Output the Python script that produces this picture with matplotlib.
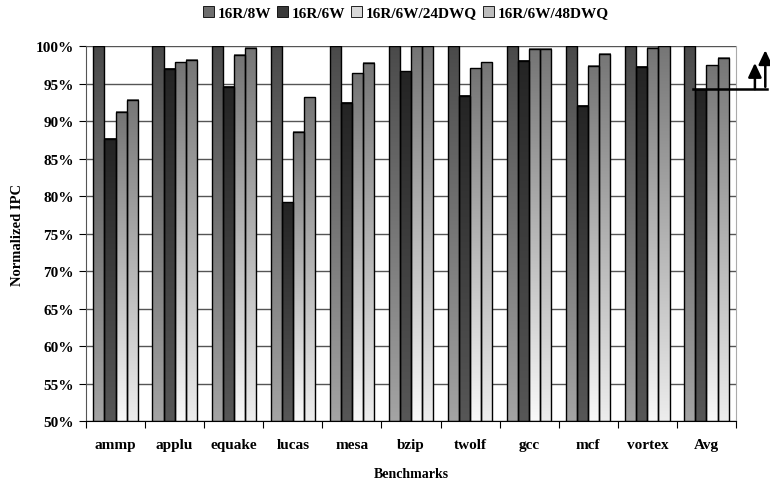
import numpy as np
import matplotlib.pyplot as plt
import matplotlib.transforms as mtransforms
from matplotlib.colors import LinearSegmentedColormap
from matplotlib.patches import Patch

plt.rcParams['font.family'] = ['Liberation Serif', 'DejaVu Serif']
plt.rcParams['font.weight'] = 'bold'

benchmarks = ['ammp', 'applu', 'equake', 'lucas', 'mesa', 'bzip', 'twolf', 'gcc', 'mcf', 'vortex', 'Avg']
series = ['16R/8W', '16R/6W', '16R/6W/24DWQ', '16R/6W/48DWQ']
r8w = [100, 100, 100, 100, 100, 100, 100, 100, 100, 100, 100]
r6w = [87.7, 97.0, 94.6, 79.2, 92.5, 96.7, 93.4, 98.1, 92.1, 97.3, 94.3]
dwq24 = [91.3, 97.9, 98.9, 88.6, 96.4, 100, 97.1, 99.7, 97.4, 99.8, 97.5]
dwq48 = [92.9, 98.2, 99.8, 93.2, 97.8, 100, 97.9, 99.7, 99.0, 100, 98.5]
yticks = [50, 55, 60, 65, 70, 75, 80, 85, 90, 95, 100]

# (top colour, bottom colour) for each series gradient
grads = [('#4a4a4a', '#a4a4a4'), ('#242424', '#575757'),
         ('#747474', '#f9f9f9'), ('#767676', '#ededed')]
legend_cols = ['#6e6e6e', '#3a3a3a', '#d8d8d8', '#bdbdbd']

fig = plt.figure(figsize=(7.7, 4.89), dpi=100)
ax = fig.add_axes([0.1117, 0.137, 0.8442, 0.766])

ymin, ymax = 50, 100
w = 0.1875
x = np.arange(len(benchmarks))
ramp = np.linspace(0, 1, 256).reshape(-1, 1)

for i, vals in enumerate([r8w, r6w, dwq24, dwq48]):
    cmap = LinearSegmentedColormap.from_list('g%d' % i, [grads[i][1], grads[i][0]])
    for xi, v in zip(x, vals):
        left = xi - 2 * w + i * w
        ax.imshow(ramp, cmap=cmap, aspect='auto', origin='lower',
                  extent=[left, left + w, ymin, v], zorder=2, interpolation='bilinear')
    ax.bar(x - 1.5 * w + i * w, np.array(vals) - ymin, bottom=ymin, width=w,
           facecolor='none', edgecolor='black', linewidth=1.0, zorder=3)

ax.set_xlim(-0.5, len(benchmarks) - 0.5)
ax.set_ylim(ymin, ymax)
ax.set_yticks(yticks)
ax.set_yticklabels(['%d%%' % t for t in yticks], fontsize=11, fontweight='bold')
ax.set_xticks(np.arange(len(benchmarks) + 1) - 0.5, minor=False)
ax.set_xticklabels([])
ax.set_xticks(x, minor=True)
ax.set_xticklabels(benchmarks, minor=True, fontsize=11, fontweight='bold')
ax.tick_params(axis='x', which='minor', length=0, pad=12)
ax.tick_params(axis='x', which='major', length=5, direction='out', color='black')
ax.tick_params(axis='y', length=5, direction='out', pad=4)

ax.grid(axis='y', color='#555555', linewidth=1.0, zorder=0)
ax.set_axisbelow(True)
ax.spines['top'].set_visible(False)
ax.spines['right'].set_color('#aaaaaa')
ax.spines['left'].set_color('#555555')
ax.spines['bottom'].set_color('black')

ax.set_ylabel('Normalized IPC', fontsize=10.5, fontweight='bold', labelpad=8)
ax.set_xlabel('Benchmarks', fontsize=10, fontweight='bold', labelpad=12)

handles = [Patch(facecolor=c, edgecolor='black', linewidth=0.6) for c in legend_cols]
fig.legend(handles, series, loc='center', bbox_to_anchor=(0.527, 0.972), ncol=4,
           frameon=False, handlelength=0.7, handleheight=0.7,
           handletextpad=0.25, columnspacing=0.4, prop={'weight': 'bold', 'size': 11})

# arrow annotation to the right of Avg
trans = mtransforms.blended_transform_factory(ax.transAxes, ax.transData)
ax.plot([0.934, 1.048], [r6w[-1], r6w[-1]], color='black', lw=1.8,
        transform=trans, clip_on=False, zorder=5)
astyle = '-|>,head_length=0.85,head_width=0.4'
ax.annotate('', xy=(1.029, dwq24[-1] + 0.3), xytext=(1.029, r6w[-1]),
            xycoords=trans, textcoords=trans,
            arrowprops=dict(arrowstyle=astyle, color='black', lw=1.8, mutation_scale=10,
                            shrinkA=0, shrinkB=0))
ax.annotate('', xy=(1.045, 99.5), xytext=(1.045, r6w[-1] + 0.3),
            xycoords=trans, textcoords=trans,
            arrowprops=dict(arrowstyle=astyle, color='black', lw=1.8, mutation_scale=10,
                            shrinkA=0, shrinkB=0))

fig.savefig('out.png', dpi=100)
